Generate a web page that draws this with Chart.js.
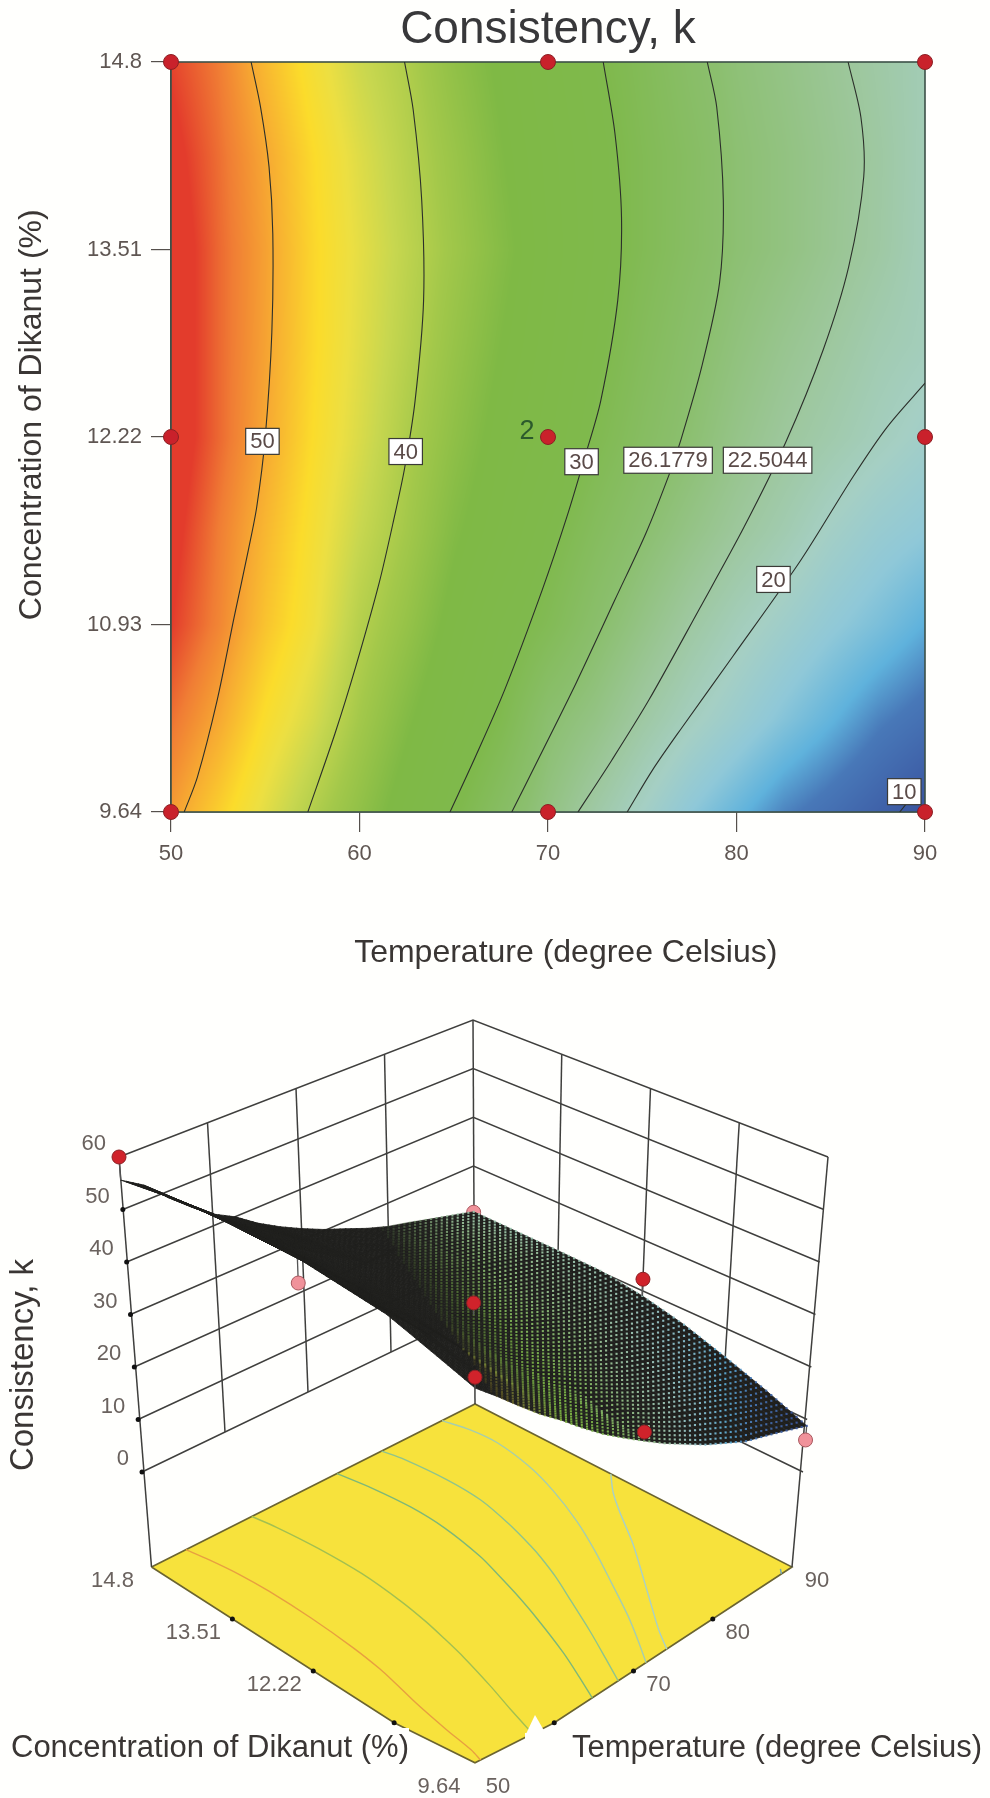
<!DOCTYPE html>
<html><head><meta charset="utf-8">
<style>html,body{margin:0;padding:0;background:#fffffd;overflow:hidden}canvas{display:block}</style>
<script src="https://cdn.jsdelivr.net/npm/chart.js@4"></script>
</head><body>
<canvas id="contour" width="990" height="1000"></canvas>
<canvas id="surface" width="990" height="798"></canvas>
<script>
const chartTitle = 'Consistency, k';
const xTitle = 'Temperature (degree Celsius)';
const yTitle = 'Concentration of Dikanut (%)';
const tempTicks = [50, 60, 70, 80, 90];
const concTicks = [9.64, 10.93, 12.22, 13.51, 14.8];
const kTicks = [0, 10, 20, 30, 40, 50, 60];

// design points [top view]
const pointT = [50, 70, 90, 50, 70, 90, 50, 70, 90];
const pointC = [14.8, 14.8, 14.8, 12.22, 12.22, 12.22, 9.64, 9.64, 9.64];

// contour lines
const levelNames = ['50', '40', '30', '26.1779', '22.5044', '20', '10'];
const c50T = [54.25,54.75,55.2,55.4,55.35,55.0,54.55,54.1,53.35,52.45,51.4,50.7];
const c50C = [14.8,14.49,14.08,13.62,12.94,12.22,11.74,11.44,10.98,10.41,9.88,9.64];
const c40T = [62.39,62.85,63.3,63.4,62.95,62.4,61.85,61.05,59.8,58.7,57.26];
const c40C = [14.8,14.47,13.85,13.16,12.47,12.01,11.67,11.22,10.64,10.18,9.64];
const c30T = [72.93,73.55,73.9,73.7,72.8,71.95,71.0,69.7,67.7,66.15,64.8];
const c30C = [14.8,14.31,13.73,13.16,12.47,12.08,11.67,11.17,10.48,10.02,9.64];
const c26T = [78.45,78.95,79.3,79.1,78.15,77.05,76.45,75.2,73.55,71.5,69.55,68.08];
const c26C = [14.8,14.49,13.85,13.28,12.7,12.2,11.97,11.56,11.1,10.53,10.02,9.64];
const c22T = [85.92,86.6,86.75,85.95,84.6,82.6,80.4,78.0,75.35,73.4,71.59];
const c22C = [14.8,14.42,14.01,13.39,12.82,12.18,11.6,11.03,10.41,10.0,9.64];
const c20T = [90,88.0,86.2,83.4,79.8,77.1,75.55,74.2];
const c20C = [12.59,12.29,11.95,11.37,10.71,10.22,9.93,9.64];
const c10T = [88.66,89.16];
const c10C = [9.64,9.72];

// contour label anchors
const labelT = [54.85, 62.45, 71.78, 76.37, 81.65, 81.96, 88.9];
const labelC = [12.19, 12.12, 12.05, 12.06, 12.06, 11.24, 9.78];

// response, columns at gridT
const gridT = [50,52.5,55,57.5,60,62.5,65,67.5,70,72.5,75,77.5,80,82.5,85,87.5,90];
const gridC = [9.64,10.285,10.93,11.575,12.22,12.865,13.51,14.155,14.8];
const kRow0 = [51,47.5,43.8,40.2,37,33.5,30.2,27.3,24.5,21.8,19.4,17,15,13,11.7,10.3,8.8];
const kRow1 = [53.5,50.3,46.2,43,39,35.5,32.3,29.6,26,24.3,22,20,18.3,16.5,14.8,13,11.8];
const kRow2 = [56,52.5,48.3,45,40.5,37.5,34,31,28.9,26.4,24.2,22.1,20.3,18.8,17.3,16,14.5];
const kRow3 = [57,53,49.2,45.7,42,39,35.5,33,30.3,28,26,24.2,22.5,21,19.3,18,17.1];
const kRow4 = [58,54,50.3,46.5,43.2,39.8,36.8,34,32,29.5,27.5,25.8,24,22.5,21.3,20.1,19];
const kRow5 = [58,54,50.6,46.9,43.7,40.7,37.7,35,32.7,30.4,28.3,26.5,24.9,23.5,22.3,21,20.2];
const kRow6 = [58,54,50.7,47,44,41.2,38.5,35.8,33.2,31,29,27.3,25.7,24.6,23.3,22,20.4];
const kRow7 = [57,53.7,50.3,46.7,43.5,40.7,38,35.2,32.9,30.9,29,27.4,25.7,24.6,23.4,22.1,20.5];
const kRow8 = [55.6,53,49,45.5,42.3,40,37,34.5,32.3,30.3,28.6,26.8,25.3,24.2,23,21.8,20.6];

// measured runs shown in the 3D view
const redT = [50, 70, 50, 70, 90];
const redC = [14.8, 12.22, 9.64, 9.64, 12.22];
const redK = [60, 34.3, 52.9, 26.1, 22.3];
const pinkT = [50, 90, 90];
const pinkC = [12.22, 14.8, 9.64];
const pinkK = [53.4, 20.5, 6.1];

const FONT = '"Liberation Sans", Arial, sans-serif';
const kGrid = [kRow0,kRow1,kRow2,kRow3,kRow4,kRow5,kRow6,kRow7,kRow8];
const contoursT = [c50T,c40T,c30T,c26T,c22T,c20T,c10T];
const contoursC = [c50C,c40C,c30C,c26C,c22C,c20C,c10C];
const colorStops = [
 [9,[58,85,160]],[12.6,[72,120,184]],[14.6,[95,178,220]],[17,[143,200,216]],[19.5,[165,207,196]],
 [22.5,[157,199,156]],[26,[139,191,110]],[30,[127,185,76]],[35,[127,185,69]],[39,[163,200,74]],
 [42,[200,215,79]],[44.5,[236,223,66]],[46.5,[251,220,43]],[50,[247,172,50]],[53,[240,125,52]],[56,[227,60,44]]];

function kAt(T,C){
  const fx=Math.min(gridT.length-1.0001,Math.max(0,(T-50)/2.5));
  const fy=Math.min(gridC.length-1.0001,Math.max(0,(C-9.64)/0.645));
  const i=Math.floor(fx),j=Math.floor(fy),a=fx-i,b=fy-j;
  return (kGrid[j][i]*(1-a)+kGrid[j][i+1]*a)*(1-b)+(kGrid[j+1][i]*(1-a)+kGrid[j+1][i+1]*a)*b;
}
function colorOf(k){
  if(k<=colorStops[0][0])return colorStops[0][1];
  for(let i=1;i<colorStops.length;i++){
    if(k<=colorStops[i][0]){
      const a=colorStops[i-1],b=colorStops[i],t=(k-a[0])/(b[0]-a[0]);
      return [0,1,2].map(n=>a[1][n]+(b[1][n]-a[1][n])*t);
    }
  }
  return colorStops[colorStops.length-1][1];
}

/* ---------- top: contour plot ---------- */
const contourSets = contoursT.map((ts,i)=>({
  label:levelNames[i], showLine:true, pointRadius:0, borderColor:'#2b2f2a', borderWidth:1.1, tension:.3,
  data:ts.map((t,n)=>({x:t,y:contoursC[i][n]})), order:3
}));
const shadePlugin={
  id:'shade',
  beforeDatasetsDraw(ch){
    const {ctx,chartArea:a,scales:{x,y}}=ch;
    const L=Math.round(a.left),T=Math.round(a.top),W=Math.round(a.right)-L,H=Math.round(a.bottom)-T;
    const img=ctx.createImageData(W,H);
    for(let py=0;py<H;py++){
      const C=y.getValueForPixel(T+py);
      for(let px=0;px<W;px++){
        const c=colorOf(kAt(x.getValueForPixel(L+px),C)),o=(py*W+px)*4;
        img.data[o]=c[0];img.data[o+1]=c[1];img.data[o+2]=c[2];img.data[o+3]=255;
      }
    }
    ctx.putImageData(img,L,T);
    ctx.save();ctx.strokeStyle='#3c5048';ctx.lineWidth=1.6;ctx.strokeRect(a.left,a.top,a.right-a.left,a.bottom-a.top);ctx.restore();
  },
  afterDatasetsDraw(ch){
    const {ctx,scales:{x,y}}=ch;
    ctx.save();
    ctx.font='22px '+FONT;ctx.textAlign='center';ctx.textBaseline='middle';
    levelNames.forEach((s,i)=>{
      const px=x.getPixelForValue(labelT[i]),py=y.getPixelForValue(labelC[i]);
      const w=ctx.measureText(s).width+9,h=26;
      ctx.fillStyle='#fff';ctx.strokeStyle='#3a3a36';ctx.lineWidth=1.2;
      ctx.fillRect(px-w/2,py-h/2,w,h);ctx.strokeRect(px-w/2,py-h/2,w,h);
      ctx.fillStyle='#5a4a48';ctx.fillText(s,px,py+1);
    });
    ctx.font='27px '+FONT;ctx.fillStyle='#2c5a2c';
    ctx.fillText('2',x.getPixelForValue(70)-21,y.getPixelForValue(12.22)-5);
    ctx.restore();
  }
};
new Chart(document.getElementById('contour'),{
  type:'scatter',
  data:{datasets:[
    {label:'Design points',data:pointT.map((t,i)=>({x:t,y:pointC[i]})),pointRadius:7.5,
     backgroundColor:'#c9212b',borderColor:'#8c2024',borderWidth:1,clip:false,order:1},
    ...contourSets]},
  options:{
    responsive:false,animation:false,devicePixelRatio:1,
    layout:{autoPadding:false,padding:{right:65,top:0,left:0,bottom:0}},
    plugins:{legend:{display:false},tooltip:{enabled:false},
      title:{display:true,fullSize:false,text:chartTitle,color:'#38383a',font:{family:FONT,size:46,weight:'normal'},padding:{top:3,bottom:3.8}}},
    scales:{
      x:{type:'linear',min:50,max:90,
        afterFit(s){s.height=188;},
        afterBuildTicks(s){s.ticks=tempTicks.map(v=>({value:v}));},
        grid:{drawOnChartArea:false,tickLength:20,color:'#55504c',lineWidth:1.2},
        border:{color:'#3c5048',width:1.6},
        ticks:{color:'#5f5652',font:{family:FONT,size:22},padding:9,maxRotation:0,autoSkip:false,callback:v=>String(v)},
        title:{display:true,text:'    '+xTitle,color:'#3a3634',font:{family:FONT,size:32},padding:{top:0,bottom:28}}},
      y:{type:'linear',min:9.64,max:14.8,
        afterFit(s){s.width=171;},
        afterBuildTicks(s){s.ticks=concTicks.map(v=>({value:v}));},
        grid:{drawOnChartArea:false,tickLength:20,color:'#55504c',lineWidth:1.2},
        border:{color:'#3c5048',width:1.6},
        ticks:{color:'#5f5652',font:{family:FONT,size:22},padding:9,autoSkip:false,callback:v=>String(v)},
        title:{display:true,text:'     '+yTitle,color:'#3a3634',font:{family:FONT,size:32},padding:{top:13,bottom:0}}}
    }
  },
  plugins:[shadePlugin]
});

/* ---------- bottom: 3D response surface ---------- */
const camFloor={A:[151.5,1567],B:[475,1404],C:[792,1567],D:[475,1775]};
const camZero ={A:[142,1472],B:[474,1312],C:[803,1472],D:[475,1677]};
const camTop  ={A:[119,1157],B:[473,1020],C:[828,1157],D:[475,1337]};
const floorBend={start:1722,squeeze:.77}; // the reference squashes the front tip of the floor
function onPlane(c,T,Conc){
  const s=(T-50)/40,t=(Conc-9.64)/5.16;
  return [0,1].map(n=>(1-s)*(1-t)*c.D[n]+s*(1-t)*c.C[n]+s*t*c.B[n]+(1-s)*t*c.A[n]);
}
function project(T,Conc,k){
  if(k===null){
    const p=onPlane(camFloor,T,Conc);
    const y=p[1]>floorBend.start?floorBend.start+(p[1]-floorBend.start)*floorBend.squeeze:p[1];
    return {x:p[0],y};
  }
  const a=onPlane(camZero,T,Conc),b=onPlane(camTop,T,Conc),f=k/60;
  return {x:a[0]+(b[0]-a[0])*f,y:a[1]+(b[1]-a[1])*f};
}
const lineStyle={showLine:true,pointRadius:0,borderColor:'#3f3f3d',borderWidth:1.5,order:6};
const wallSets=[];
kTicks.forEach(k=>wallSets.push({...lineStyle,label:'k '+k,data:[project(50,14.8,k),project(90,14.8,k),project(90,9.64,k)]}));
tempTicks.slice(1,-1).forEach(t=>wallSets.push({...lineStyle,label:'T '+t,data:[project(t,14.8,0),project(t,14.8,60)]}));
concTicks.slice(1,-1).forEach(c=>wallSets.push({...lineStyle,label:'C '+c,data:[project(90,c,0),project(90,c,60)]}));
[[50,14.8],[90,14.8],[90,9.64]].forEach(e=>wallSets.push({...lineStyle,label:'edge',data:[project(e[0],e[1],null),project(e[0],e[1],60)]}));

const floorColors=['#e8a040','#a3c050','#7fb878','#8fc48c','#a6cdae','#a9d0c6','#6f9fc0'];
const floorContours=contoursT.map((ts,i)=>({
  label:'floor '+levelNames[i],showLine:true,pointRadius:0,borderColor:floorColors[i],borderWidth:1.4,tension:.3,order:7,
  data:ts.map((t,n)=>project(t,contoursC[i][n],null))}));
const floorShape={label:'floor',showLine:true,pointRadius:0,fill:'shape',backgroundColor:'#f7e23c',borderColor:'#6b6430',borderWidth:1.6,order:8,
  data:[project(50,14.8,null),project(90,14.8,null),project(90,9.64,null),project(60,9.64,null),project(50,9.64,null),project(50,10.93,null),project(50,14.8,null)]};
const tickDots={label:'ticks',pointRadius:2.5,backgroundColor:'#111',borderWidth:0,order:5,data:[
  ...kTicks.slice(0,-1).map(k=>project(50,14.8,k)),
  ...concTicks.slice(1,-1).map(c=>project(50,c,null)),
  ...tempTicks.slice(1,-1).map(t=>project(t,9.64,null))]};
function stems(ts,cs,ks,order,color){
  return ts.map((t,i)=>({label:'stem',showLine:true,pointRadius:0,borderColor:color,borderWidth:1.3,order,
    data:[project(t,cs[i],ks[i]),project(t,cs[i],kAt(t,cs[i]))]}));
}
const surfacePlugin={
  id:'surface',
  afterDatasetDraw(ch,args){
    if(ch.data.datasets[args.index].label!=='Below surface')return;
    const {ctx,scales:{x,y}}=ch;
    const P=(t,c)=>{const p=project(t,c,kAt(t,c));return [x.getPixelForValue(p.x),y.getPixelForValue(p.y)];};
    const N=64;
    ctx.save();
    ctx.fillStyle=ctx.strokeStyle='#1f1f1d';ctx.lineWidth=.8;
    for(let i=0;i<N;i++)for(let j=0;j<N;j++){
      const t0=50+40*i/N,t1=50+40*(i+1)/N,c0=9.64+5.16*j/N,c1=9.64+5.16*(j+1)/N;
      const a=P(t0,c0),b=P(t1,c0),c=P(t1,c1),d=P(t0,c1);
      ctx.beginPath();ctx.moveTo(a[0],a[1]);ctx.lineTo(b[0],b[1]);ctx.lineTo(c[0],c[1]);ctx.lineTo(d[0],d[1]);ctx.closePath();ctx.fill();ctx.stroke();
    }
    for(let i=0;i<=N;i++)for(let j=0;j<=N;j++){
      const t=50+40*i/N,c=9.64+5.16*j/N;
      const edge=52+(c-9.64)/5.16*27,al=Math.min(1,Math.max(0,(t-edge)/9));
      if(al<=0)continue;
      const col=colorOf(kAt(t,c)),p=P(t,c);
      ctx.fillStyle=`rgba(${col[0]|0},${col[1]|0},${col[2]|0},${.1+.8*al})`;
      ctx.fillRect(p[0]-1,p[1]-1,2.1,2.1);
    }
    ctx.restore();
  },
  afterDatasetsDraw(ch){
    const {ctx,scales:{x,y}}=ch;
    const text=(s,vx,vy,dx,dy,align)=>{ctx.textAlign=align||'center';ctx.fillText(s,x.getPixelForValue(vx)+dx,y.getPixelForValue(vy)+dy);};
    ctx.save();
    ctx.textBaseline='middle';ctx.font='22px '+FONT;ctx.fillStyle='#6a625e';
    kTicks.forEach(k=>{const p=project(50,14.8,k);text(String(k),p.x,p.y,-13,-13,'right');});
    concTicks.forEach((c,i)=>{const p=project(50,c,null);text(String(c),p.x,p.y,i===0?-36:-39,i===0?24:i===1?19:14);});
    tempTicks.forEach((t,i)=>{const p=project(t,9.64,null);text(String(t),p.x,p.y,i===0?23:25,i===0?24:i===1?19:14);});
    // the reference pastes white-backed axis captions over the lower labels
    ctx.fillStyle='#fffffd';
    ctx.fillRect(x.getPixelForValue(0),y.getPixelForValue(1728),409,42);
    ctx.fillRect(x.getPixelForValue(525),y.getPixelForValue(1733),465,37);
    ctx.beginPath();ctx.moveTo(x.getPixelForValue(526),y.getPixelForValue(1734));ctx.lineTo(x.getPixelForValue(535),y.getPixelForValue(1715));ctx.lineTo(x.getPixelForValue(546),y.getPixelForValue(1734));ctx.closePath();ctx.fill();
    ctx.fillStyle='#3a3634';ctx.font='31px '+FONT;
    text(yTitle,210,1748,0,0);
    text(xTitle,777,1748,0,0);
    ctx.translate(x.getPixelForValue(24),y.getPixelForValue(1365));ctx.rotate(-Math.PI/2);
    ctx.font='33px '+FONT;ctx.textAlign='center';ctx.fillText(chartTitle,0,0);
    ctx.restore();
  }
};
new Chart(document.getElementById('surface'),{
  type:'scatter',
  data:{datasets:[
    {label:'Above surface',data:redT.map((t,i)=>project(t,redC[i],redK[i])),pointRadius:7,backgroundColor:'#d0232b',borderColor:'#8c2024',borderWidth:1,order:1},
    ...stems(redT,redC,redK,2,'#555'),
    {label:'Below surface',data:pinkT.map((t,i)=>project(t,pinkC[i],pinkK[i])),pointRadius:7,backgroundColor:'#f0929a',borderColor:'#a8585e',borderWidth:1,order:3},
    ...stems(pinkT,pinkC,pinkK,4,'#555'),
    tickDots,...wallSets,...floorContours,floorShape]},
  options:{
    responsive:false,animation:false,devicePixelRatio:1,
    layout:{autoPadding:false,padding:0},
    plugins:{legend:{display:false},tooltip:{enabled:false}},
    scales:{
      x:{type:'linear',display:false,min:0,max:990},
      y:{type:'linear',display:false,min:1000,max:1798,reverse:true}}
  },
  plugins:[surfacePlugin]
});
</script>
</body></html>
